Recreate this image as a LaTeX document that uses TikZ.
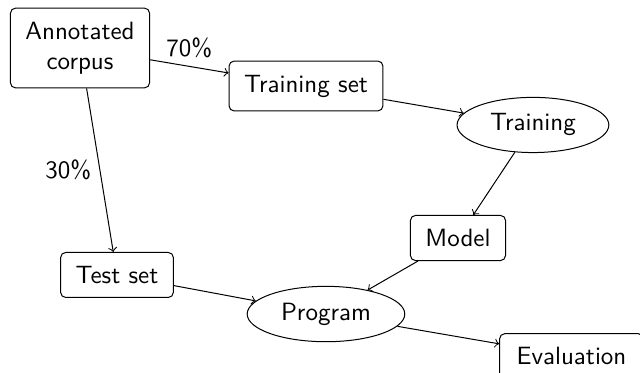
\documentclass[tikz,border=0pt]{standalone}
\usepackage{tikz}
\usetikzlibrary{shapes.geometric}
\renewcommand{\familydefault}{\sfdefault}

\begin{document}
\begin{tikzpicture}[box/.style={draw, rectangle, rounded corners=2pt, inner xsep=6pt, inner ysep=5.5pt, align=center},
                    oval/.style={draw, ellipse, inner xsep=4.3pt}]
          \useasboundingbox (0,0) rectangle (8.998,5.244);
          \node[box] (corpus) at (1.125,4.569) {Annotated\\corpus};
          \node[box] (trainset) at (4.302,4.035) {Training set};
          \node[oval] (training) at (7.493,3.487) {Training};
          \node[box] (model) at (6.439,1.898) {Model};
          \node[box] (testset) at (1.645,1.378) {Test set};
          \node[oval] (program) at (4.583,0.829) {Program};
          \node[box, minimum width=57.5pt] (eval) at (8.035,0.235) {Evaluation};
          \draw[->] (corpus) -- node[above] {70\%} (trainset);
          \draw[->] (corpus) -- node[left] {30\%} (testset);
          \draw[->] (trainset) -- (training);
          \draw[->] (training) -- (model);
          \draw[->] (model) -- (program);
          \draw[->] (testset) -- (program);
          \draw[->] (program) -- (eval);
        \end{tikzpicture}
\end{document}
